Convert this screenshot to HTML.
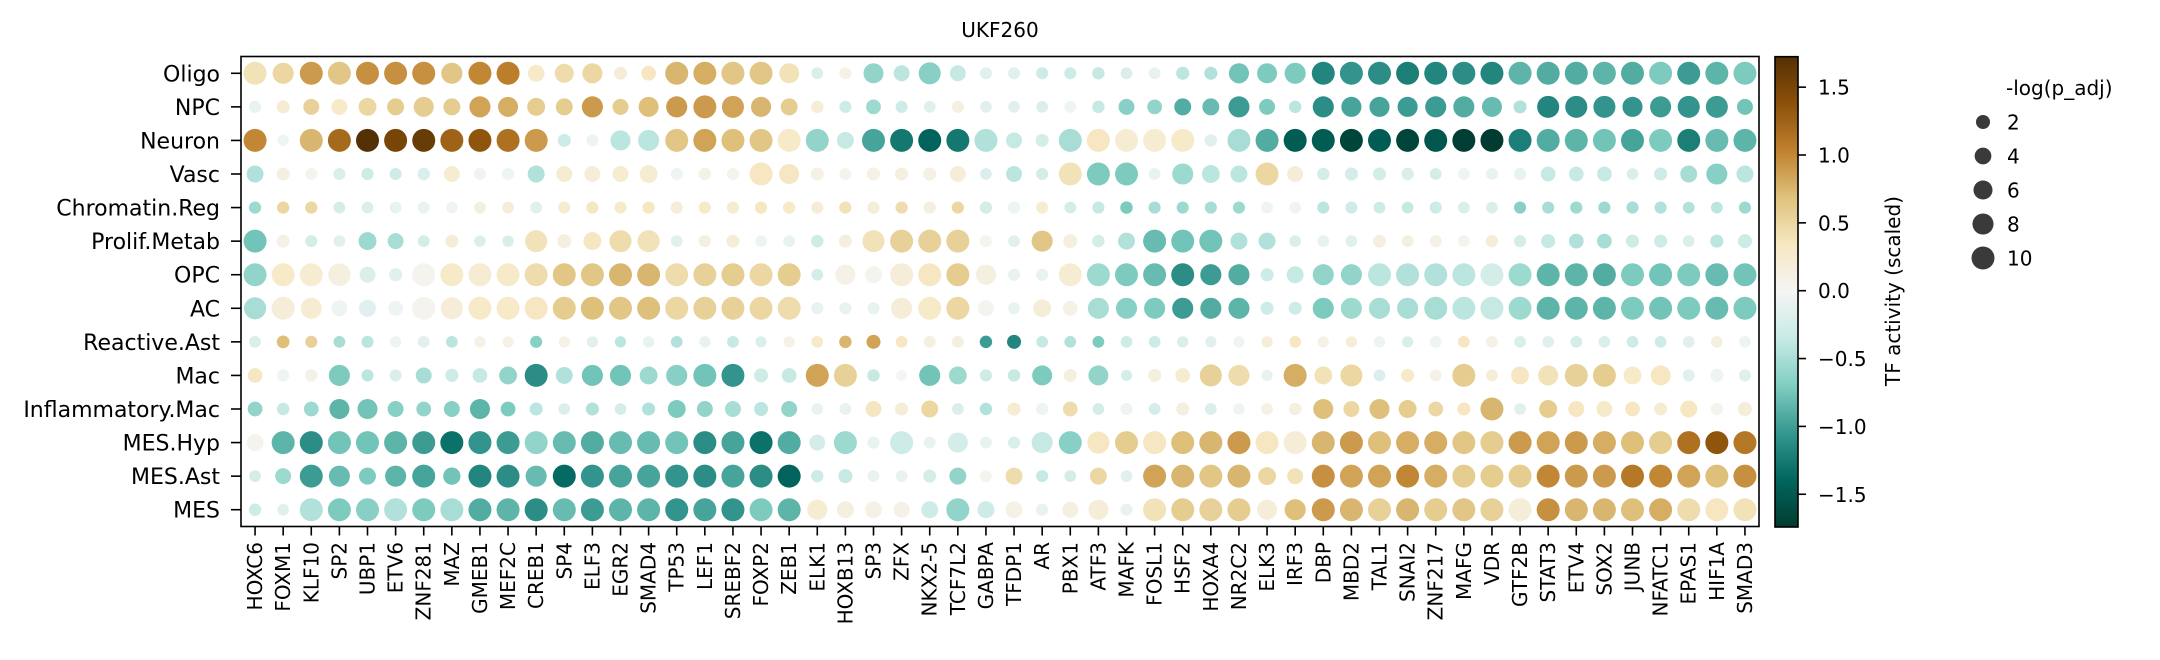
<!DOCTYPE html>
<html><head><meta charset="utf-8"><title>UKF260 TF activity dotplot</title>
<style>
html,body{margin:0;padding:0;background:#fff;}
svg{display:block;font-family:"DejaVu Sans","Liberation Sans",sans-serif;}
</style></head>
<body>
<svg id="chart" width="2160" height="660" viewBox="0 0 2160 660" xmlns="http://www.w3.org/2000/svg">
<defs>
<linearGradient id="cbgrad" x1="0" y1="1" x2="0" y2="0">
<stop offset="0" stop-color="#003c30"/><stop offset="0.1" stop-color="#01665e"/><stop offset="0.2" stop-color="#35978f"/><stop offset="0.3" stop-color="#80cdc1"/><stop offset="0.4" stop-color="#c7eae5"/><stop offset="0.5" stop-color="#f5f5f5"/><stop offset="0.6" stop-color="#f6e8c3"/><stop offset="0.7" stop-color="#dfc27d"/><stop offset="0.8" stop-color="#bf812d"/><stop offset="0.9" stop-color="#8c510a"/><stop offset="1" stop-color="#543005"/>
</linearGradient>
</defs>
<text x="1000" y="37" font-size="20" text-anchor="middle">UKF260</text>
<g id="dots"></g>
<g id="yaxis"></g>
<g id="xaxis"></g>
<rect x="241" y="56.5" width="1518" height="470" fill="none" stroke="#000" stroke-width="1.6"/>
<g>
<rect x="1775" y="56.7" width="23" height="470.3" fill="url(#cbgrad)" stroke="#000" stroke-width="1.6"/>
<g id="cbticks"></g>
<text x="1900" y="291" font-size="20" text-anchor="middle" transform="rotate(-90 1900 291)">TF activity (scaled)</text>
</g>
<g id="legend">
<text x="2006" y="95" font-size="20">-log(p_adj)</text>
</g>
</svg>
<script>
const cellTypes = ["Oligo","NPC","Neuron","Vasc","Chromatin.Reg","Prolif.Metab","OPC","AC","Reactive.Ast","Mac","Inflammatory.Mac","MES.Hyp","MES.Ast","MES"];
const tfs = ["HOXC6","FOXM1","KLF10","SP2","UBP1","ETV6","ZNF281","MAZ","GMEB1","MEF2C","CREB1","SP4","ELF3","EGR2","SMAD4","TP53","LEF1","SREBF2","FOXP2","ZEB1","ELK1","HOXB13","SP3","ZFX","NKX2-5","TCF7L2","GABPA","TFDP1","AR","PBX1","ATF3","MAFK","FOSL1","HSF2","HOXA4","NR2C2","ELK3","IRF3","DBP","MBD2","TAL1","SNAI2","ZNF217","MAFG","VDR","GTF2B","STAT3","ETV4","SOX2","JUNB","NFATC1","EPAS1","HIF1A","SMAD3"];
const cbTicks = [-1.5,-1.0,-0.5,0.0,0.5,1.0,1.5];
const legendValues = [2,4,6,8,10];
const activity = [
[0.4,0.5,0.9,0.65,0.95,0.95,0.95,0.65,1.0,1.05,0.3,0.45,0.5,0.2, 0.35,0.75,0.8,0.65,0.65,0.4,-0.2,0.1,-0.6,-0.4,-0.65,-0.35,-0.15,-0.15, -0.3,-0.3,-0.35,-0.2,-0.1,-0.4,-0.45,-0.75,-0.7,-0.7,-1.15,-1.05,-1.1,-1.2, -1.15,-1.1,-1.15,-0.85,-0.9,-0.9,-0.85,-0.9,-0.7,-1.0,-0.85,-0.7],
[-0.1,0.25,0.55,0.3,0.5,0.6,0.6,0.6,0.85,0.8,0.6,0.6,0.9,0.6, 0.7,0.9,0.9,0.85,0.75,0.6,0.2,-0.3,-0.55,-0.3,-0.15,0.15,-0.15,-0.15, -0.2,-0.05,-0.35,-0.65,-0.6,-0.9,-0.8,-1.0,-0.7,-0.4,-1.1,-0.95,-0.95,-1.0, -1.0,-0.9,-0.8,-0.45,-1.15,-1.1,-1.05,-1.05,-1.0,-1.05,-1.0,-0.75],
[1.0,-0.05,0.75,1.2,1.72,1.5,1.6,1.25,1.35,1.15,0.9,-0.3,-0.05,-0.4, -0.4,0.65,0.85,0.7,0.65,0.3,-0.6,-0.35,-0.95,-1.25,-1.4,-1.25,-0.45,-0.35, -0.25,-0.5,0.35,0.25,0.25,0.3,-0.15,-0.5,-0.9,-1.45,-1.45,-1.65,-1.45,-1.65, -1.5,-1.7,-1.72,-1.2,-0.9,-0.85,-0.75,-0.95,-0.7,-1.2,-0.8,-0.85],
[-0.45,0.15,0.05,-0.2,-0.3,-0.3,-0.2,0.25,-0.05,-0.05,-0.45,0.25,0.2,0.25, 0.25,-0.05,0.1,0.05,0.35,0.35,0.1,0.05,0.1,0.15,0.1,0.2,-0.2,-0.4, -0.25,0.4,-0.7,-0.7,-0.1,-0.55,-0.4,-0.4,0.5,0.2,-0.25,-0.25,-0.25,-0.2, -0.25,-0.05,-0.1,-0.1,-0.35,-0.35,-0.35,-0.2,-0.3,-0.5,-0.65,-0.4],
[-0.55,0.5,0.5,-0.25,-0.2,-0.1,-0.1,-0.05,0.15,0.2,-0.15,0.25,0.35,0.3, 0.35,0.2,0.3,0.25,0.35,0.3,0.2,0.4,0.2,0.45,0.15,0.5,-0.25,-0.05, 0.25,-0.25,-0.35,-0.7,-0.5,-0.55,-0.5,-0.55,-0.05,-0.05,-0.4,-0.3,-0.3,-0.35, -0.3,-0.2,-0.2,-0.65,-0.5,-0.55,-0.55,-0.5,-0.45,-0.45,-0.4,-0.55],
[-0.75,0.1,-0.25,-0.15,-0.55,-0.5,-0.25,0.2,-0.2,-0.2,0.4,0.15,0.35,0.45, 0.4,-0.15,0.15,0.2,-0.05,-0.1,-0.3,0.15,0.4,0.55,0.55,0.55,0.05,-0.15, 0.65,0.15,-0.25,-0.45,-0.8,-0.75,-0.75,-0.45,-0.45,-0.2,-0.1,-0.15,0.15,0.15, 0.1,0.05,0.2,-0.25,-0.35,-0.45,-0.5,-0.3,-0.3,-0.2,-0.4,-0.3],
[-0.6,0.3,0.25,0.15,-0.2,-0.15,0.05,0.3,0.25,0.3,0.45,0.65,0.65,0.75, 0.75,0.45,0.55,0.6,0.5,0.6,-0.25,0.1,0.05,0.2,0.35,0.6,0.15,-0.1, -0.1,0.25,-0.55,-0.7,-0.8,-1.1,-1.0,-0.9,-0.3,-0.35,-0.6,-0.6,-0.4,-0.45, -0.45,-0.4,-0.25,-0.55,-0.85,-0.85,-0.9,-0.7,-0.75,-0.7,-0.8,-0.75],
[-0.5,0.2,0.25,-0.05,-0.15,-0.05,0.05,0.2,0.3,0.3,0.35,0.6,0.7,0.65, 0.7,0.5,0.55,0.55,0.5,0.45,-0.1,-0.1,-0.1,0.2,0.3,0.5,0.05,-0.1, 0.2,0.1,-0.5,-0.65,-0.7,-1.0,-0.9,-0.85,-0.3,-0.3,-0.7,-0.55,-0.5,-0.5, -0.5,-0.4,-0.35,-0.55,-0.85,-0.85,-0.85,-0.7,-0.75,-0.7,-0.8,-0.7],
[-0.2,0.7,0.55,-0.5,-0.4,-0.05,-0.15,-0.4,0.1,0.1,-0.65,0.1,-0.15,-0.4, -0.1,-0.45,-0.1,-0.35,-0.2,0.1,0.3,0.75,0.85,0.35,0.15,0.15,-1.0,-1.15, -0.35,-0.45,-0.7,-0.3,-0.3,-0.2,-0.15,-0.05,0.2,0.35,0.1,0.2,-0.05,-0.2, -0.05,0.35,0.1,-0.2,-0.15,-0.25,-0.2,-0.3,-0.3,-0.15,0.15,-0.05],
[0.35,-0.05,0.1,-0.7,-0.4,-0.2,-0.5,-0.3,-0.35,-0.6,-1.1,-0.45,-0.75,-0.75, -0.55,-0.65,-0.75,-1.05,-0.3,-0.35,0.85,0.55,-0.35,0.0,-0.75,-0.55,-0.3,-0.35, -0.7,0.15,-0.6,-0.25,0.15,0.25,0.55,0.45,-0.1,0.8,0.4,0.5,-0.2,0.3, 0.1,0.6,0.2,0.35,0.4,0.55,0.6,0.3,0.35,-0.15,-0.05,-0.15],
[-0.6,-0.35,-0.55,-0.85,-0.75,-0.65,-0.6,-0.65,-0.85,-0.7,-0.4,-0.2,-0.45,-0.25, -0.45,-0.7,-0.6,-0.5,-0.4,-0.6,-0.1,-0.1,0.35,0.2,0.5,-0.2,-0.45,0.25, -0.05,0.45,-0.25,-0.05,-0.25,0.15,-0.2,-0.05,0.1,0.15,0.7,0.5,0.7,0.6, 0.5,0.35,0.75,-0.15,0.6,0.35,0.3,0.35,0.25,0.35,0.05,0.2],
[0.05,-0.85,-1.1,-0.75,-0.75,-0.85,-1.0,-1.3,-1.05,-1.0,-0.6,-0.8,-0.9,-0.8, -0.8,-0.75,-1.1,-0.95,-1.3,-0.9,-0.25,-0.55,-0.1,-0.3,-0.1,-0.25,-0.1,-0.2, -0.35,-0.65,0.35,0.6,0.35,0.7,0.75,0.9,0.35,0.2,0.75,0.9,0.7,0.8, 0.8,0.65,0.6,0.9,0.85,0.9,0.8,0.7,0.6,1.15,1.35,1.1],
[-0.25,-0.55,-1.0,-0.8,-0.7,-0.85,-0.95,-0.75,-1.15,-1.1,-0.8,-1.35,-1.05,-0.95, -0.95,-1.05,-1.1,-0.95,-1.1,-1.4,-0.3,-0.35,-0.1,-0.1,-0.25,-0.6,0.05,0.45, -0.35,-0.25,0.5,-0.15,0.85,0.75,0.65,0.75,0.5,0.4,0.95,0.85,0.85,1.0, 0.8,0.6,0.6,0.6,1.0,0.9,0.9,1.1,1.0,0.85,0.7,0.95],
[-0.3,-0.15,-0.45,-0.7,-0.65,-0.45,-0.7,-0.5,-0.9,-0.85,-1.1,-0.8,-1.0,-0.85, -0.85,-1.05,-0.95,-1.05,-0.7,-0.85,0.25,0.15,0.1,0.1,-0.3,-0.6,-0.3,0.1, -0.1,0.15,0.2,-0.1,0.4,0.6,0.55,0.6,0.2,0.7,0.9,0.75,0.55,0.75, 0.6,0.65,0.55,0.2,0.95,0.75,0.75,0.7,0.8,0.45,0.35,0.4]
];
const negLogP = [
[10,8,10,10,10,10,10,8,10,10,4,6,7,1.4, 2.5,10,10,10,10,6.9,0.6,0.8,6.9,3.4,9,3.4,0.8,0.8, 0.8,0.8,1,0.6,0.6,1.4,1.4,7,6.9,8,10,10,10,10, 10,10,10,10,10,10,10,10,10,10,10,10],
[0.8,1.4,3.4,3.4,5,4.2,6.9,4.2,8,6.9,5,4.2,8,3.4, 6.9,8,10,9,7,4.2,1,0.8,2.5,0.8,0.6,0.8,0.6,0.6, 0.6,0.6,1,3.4,2.5,4.2,4.2,8,3.4,1,8,7,7,7, 8,8,6.9,1.4,9,9,9,7,8,9,9,3.4],
[10,0.3,10,10,10,10,10,10,10,10,10,1.4,0.8,7, 8,10,10,10,10,10,10,4.2,10,10,10,10,10,3.4, 1.4,10,10,10,10,10,1,10,10,10,10,10,10,10, 10,10,10,10,10,10,10,10,10,10,10,10],
[4.2,1.4,0.8,0.8,0.8,0.8,1,3.4,0.8,0.8,4.2,3.4,3.4,3.4, 5,0.8,1,0.8,10,7,1.4,0.8,1.4,1.4,1.4,3.4,0.6,3.4, 0.8,10,10,10,0.6,8,5,4.2,10,3.4,1,1.4,1.4,1, 0.6,0.6,0.6,0.8,2.5,2.5,2.5,0.6,1.4,4.2,8,4.2],
[0.9,0.9,0.9,0.6,0.6,0.6,0.6,0.4,0.6,0.6,0.6,0.8,0.8,0.8, 0.9,0.9,0.9,0.9,0.9,0.9,0.9,0.9,0.9,0.9,0.9,0.9,0.9,0.9, 0.8,0.6,0.8,1,0.8,0.8,0.8,0.8,0.6,0.6,0.8,0.8,0.6,0.6, 0.8,0.6,0.6,0.8,0.8,0.8,0.8,0.8,0.8,0.6,0.6,0.8],
[10,1.4,0.8,0.6,5,3.4,0.6,1.4,0.5,0.5,9,2,5,9, 9,0.6,0.8,1.4,0.6,0.6,1,1.4,9,10,10,10,0.8,0.6, 8,2,1,4.2,10,10,10,4.2,4.2,0.6,0.6,0.6,1.4,0.6, 0.8,0.6,1,0.8,2,2.5,2.5,1.4,1.4,0.6,1.4,2],
[10,10,10,9.5,3.4,1.4,10,10,10,10,10,10,10,10, 10,10,10,10,10,10,0.6,7,4.2,10,10,10,7,0.8, 0.8,10,10,10,10,10,8,8,1.4,4.2,8,8,10,10, 10,10,10,10,10,10,10,10,10,10,10,10],
[9,10,8,3.4,4.2,2.5,10,9,10,10,10,10,10,10, 10,10,10,10,10,10,0.8,0.8,0.8,8,10,10,3.4,0.6, 5,2.5,8,8,8,8,8,8,1.4,1.4,8,8,8,8, 10,10,10,10,10,10,10,10,10,10,10,10],
[0.6,1.2,0.8,0.6,0.8,0.3,0.6,0.6,0.3,0.3,0.8,0.3,0.3,0.3, 0.3,0.6,0.3,0.6,0.3,0.3,0.6,1,2,0.6,0.6,0.6,1,2, 0.6,0.6,0.6,0.6,0.6,0.3,0.3,0.3,0.3,0.6,0.3,0.3,0.3,0.3, 0.6,0.6,0.6,0.6,0.6,0.6,0.6,0.6,0.6,0.6,0.6,0.6],
[2.5,0.8,1,8,0.8,0.8,3.4,1.4,2.5,5,10,4.2,8,8, 5,8,10,10,2,2.5,10,10,1,0.3,8,5,0.8,1, 6.9,1.4,6.9,0.3,1.4,2.5,9,8,0.3,10,5,9,0.6,1.4, 0.6,10,0.6,5,7,10,10,5,6.9,0.8,1.4,0.8],
[2.5,1,2.5,6.9,6.9,3.4,2.5,3.4,6.9,2.5,1.4,0.5,1.4,0.5, 1.4,5,3.4,3.4,2,3.4,0.6,0.6,3.4,1.4,4.2,0.6,1,1.4, 0.8,2.5,0.6,0.8,0.6,1.4,0.6,0.6,0.6,1,6.9,3.4,6.9,5, 2.5,1.4,10,0.6,5,3.4,3.4,2.5,1.4,4.2,1,2],
[4.2,10,10,10,10,10,10,10,10,10,10,10,10,10, 10,10,10,10,10,10,3.4,10,0.8,10,0.6,7,0.6,0.8, 8,10,9,10,10,10,10,10,10,10,10,10,10,10, 10,10,10,10,10,10,10,10,10,10,10,10],
[0.6,3.4,10,8,4.2,8,10,4.5,10,10,8,10,10,10, 10,10,10,10,10,10,1,2,0.6,0.6,1.4,4.2,0.6,4.2, 0.8,0.6,4.2,0.6,10,10,10,10,5,3.4,10,10,10,10, 10,10,10,10,10,10,10,10,10,10,10,10],
[1,0.6,10,10,10,10,10,10,10,10,10,10,10,10, 10,10,10,10,10,10,7,4.2,4.2,3.4,4.2,10,4.2,4.2, 0.8,3.4,6.9,0.8,10,10,10,10,6.9,8,10,10,10,10, 10,10,10,10,10,10,10,10,10,10,10,10]
];

const NS = "http://www.w3.org/2000/svg";
const PL = 241, PR = 1759, PT = 56.5, PB = 526.5;
const VMAX = 1.72;
const colW = (PR - PL) / tfs.length;
const rowH = (PB - PT) / cellTypes.length;
function xPos(i){ return PL + (i + 0.5) * colW; }
function yPos(j){ return PT + (j + 0.5) * rowH; }
function dotDiam(v){ return Math.sqrt(Math.max(60, 113 + 41.6 * v)); }
function cbY(v){ return 290.7 - v * 135.7; }
const stops = ["#003c30","#01665e","#35978f","#80cdc1","#c7eae5","#f5f5f5","#f6e8c3","#dfc27d","#bf812d","#8c510a","#543005"];
function hex2rgb(h){ return [parseInt(h.substr(1,2),16),parseInt(h.substr(3,2),16),parseInt(h.substr(5,2),16)]; }
function cmap(v){
  let t = (v + VMAX) / (2 * VMAX);
  t = Math.min(1, Math.max(0, t)) * 10;
  const i = Math.min(9, Math.floor(t)); const f = t - i;
  const a = hex2rgb(stops[i]), b = hex2rgb(stops[i+1]);
  return "rgb(" + a.map((c,k) => Math.round(c + (b[k]-c)*f)).join(",") + ")";
}
function mk(tag, attrs, parent){
  const el = document.createElementNS(NS, tag);
  for (const k in attrs) el.setAttribute(k, attrs[k]);
  parent.appendChild(el); return el;
}
const dots = document.getElementById("dots");
for (let j = 0; j < cellTypes.length; j++){
  for (let i = 0; i < tfs.length; i++){
    const c = mk("circle", {cx: xPos(i), cy: yPos(j), r: dotDiam(negLogP[j][i]) / 2, fill: cmap(activity[j][i])}, dots);
    
    
  }
}
const yaxis = document.getElementById("yaxis");
cellTypes.forEach((n, j) => {
  const t = mk("line", {x1: 231, x2: PL, y1: yPos(j), y2: yPos(j), stroke: "#000", "stroke-width": 1.6}, yaxis);
  
  
  const l = mk("text", {x: 220, y: yPos(j) + 8, "font-size": 22, "text-anchor": "end"}, yaxis);
  l.textContent = n;
  
  
});
const xaxis = document.getElementById("xaxis");
tfs.forEach((n, i) => {
  const x = xPos(i);
  const t = mk("line", {x1: x, x2: x, y1: PB, y2: PB + 9, stroke: "#000", "stroke-width": 1.6}, xaxis);
  
  
  const l = mk("text", {x: x + 7, y: 542, "font-size": 20, "text-anchor": "end", transform: "rotate(-90 " + (x + 7) + " 542)"}, xaxis);
  l.textContent = n;
  
  
});
const cbt = document.getElementById("cbticks");
cbTicks.forEach(v => {
  const y = cbY(v);
  const t = mk("line", {x1: 1798, x2: 1806, y1: y, y2: y, stroke: "#000", "stroke-width": 1.6}, cbt);
  
  
  const l = mk("text", {x: 1818, y: y + 7.5, "font-size": 20}, cbt);
  l.textContent = (v < 0 ? "\u2212" : "") + Math.abs(v).toFixed(1);
  
  
});
const leg = document.getElementById("legend");
legendValues.forEach((v, k) => {
  const y = 122 + k * 34;
  const c = mk("circle", {cx: 1983, cy: y, r: dotDiam(v) / 2, fill: "#3a3a3a"}, leg);
  
  
  const l = mk("text", {x: 2007, y: y + 7.5, "font-size": 20}, leg);
  l.textContent = String(v);
  
  
});
</script>
</body></html>
